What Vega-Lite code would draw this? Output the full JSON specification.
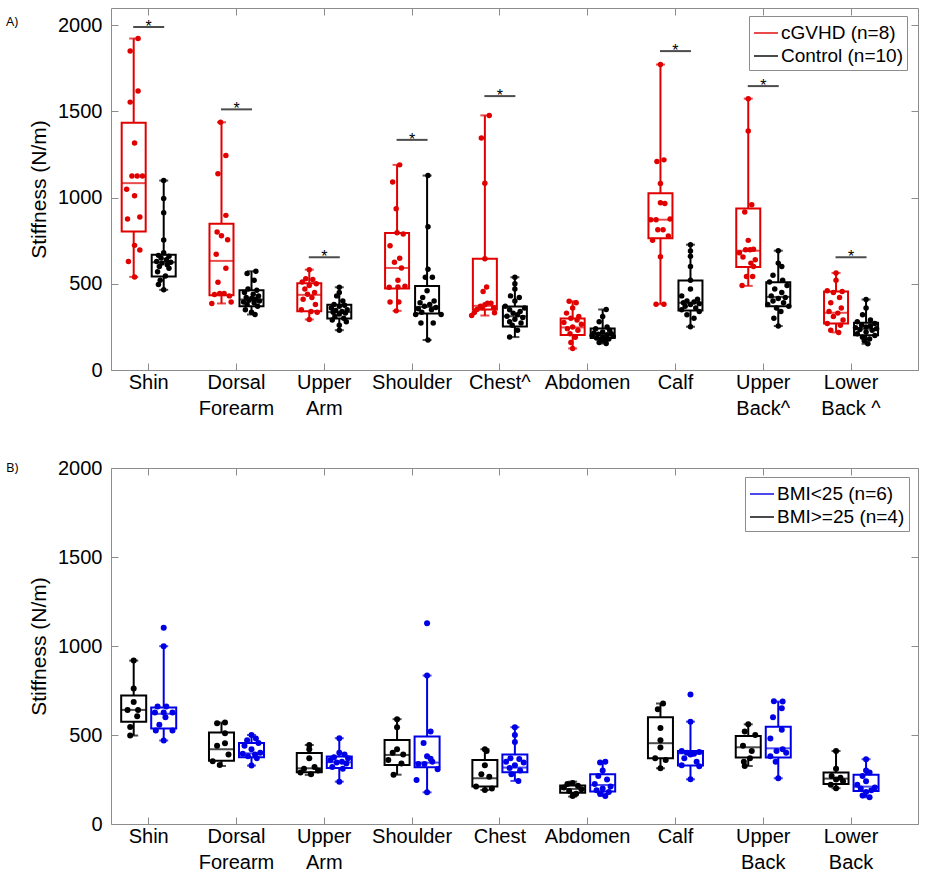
{
"$schema": "https://vega.github.io/schema/vega-lite/v6.json",
"padding": {"left": 5, "top": 7, "right": 2, "bottom": 2},
"spacing": 38,
"config": {
  "view": {"stroke": "#8c8c8c", "strokeWidth": 1},
  "font": "Liberation Sans",
  "axis": {"labelFont": "Liberation Sans", "labelFontSize": 20, "labelColor": "#000000", "titleFont": "Liberation Sans", "titleFontSize": 21, "titleFontWeight": "normal", "titleColor": "#000000", "tickColor": "#8c8c8c", "tickWidth": 1, "domain": false, "grid": false},
  "legend": {"title": null, "orient": "none", "symbolType": "stroke", "symbolSize": 576, "symbolStrokeWidth": 2, "labelFont": "Liberation Sans", "labelFontSize": 19, "labelColor": "#000000", "strokeColor": "#8c8c8c", "fillColor": "#ffffff", "padding": 4, "rowPadding": -5, "labelOffset": 2}
},
"datasets": {
"boxesA": [
{"s":"Shin","g":"cGVHD (n=8)","lo":540,"q1":804,"med":1084,"q3":1435,"hi":1923},
{"s":"Shin","g":"Control (n=10)","lo":465,"q1":542,"med":625,"q3":669,"hi":1099},
{"s":"Dorsal Forearm","g":"cGVHD (n=8)","lo":386,"q1":434,"med":633,"q3":849,"hi":1437},
{"s":"Dorsal Forearm","g":"Control (n=10)","lo":322,"q1":370,"med":409,"q3":463,"hi":573},
{"s":"Upper Arm","g":"cGVHD (n=8)","lo":293,"q1":341,"med":436,"q3":503,"hi":582},
{"s":"Upper Arm","g":"Control (n=10)","lo":231,"q1":299,"med":336,"q3":378,"hi":480},
{"s":"Shoulder","g":"cGVHD (n=8)","lo":343,"q1":473,"med":592,"q3":795,"hi":1190},
{"s":"Shoulder","g":"Control (n=10)","lo":174,"q1":328,"med":366,"q3":488,"hi":1128},
{"s":"Chest","g":"cGVHD (n=8)","lo":316,"q1":351,"med":372,"q3":646,"hi":1477},
{"s":"Chest","g":"Control (n=10)","lo":191,"q1":253,"med":312,"q3":368,"hi":538},
{"s":"Abdomen","g":"cGVHD (n=8)","lo":125,"q1":203,"med":247,"q3":299,"hi":399},
{"s":"Abdomen","g":"Control (n=10)","lo":154,"q1":185,"med":206,"q3":241,"hi":351},
{"s":"Calf","g":"cGVHD (n=8)","lo":382,"q1":764,"med":872,"q3":1026,"hi":1772},
{"s":"Calf","g":"Control (n=10)","lo":251,"q1":345,"med":390,"q3":519,"hi":727},
{"s":"Upper Back","g":"cGVHD (n=8)","lo":488,"q1":598,"med":692,"q3":937,"hi":1574},
{"s":"Upper Back","g":"Control (n=10)","lo":255,"q1":370,"med":424,"q3":509,"hi":692},
{"s":"Lower Back","g":"cGVHD (n=8)","lo":218,"q1":270,"med":332,"q3":455,"hi":563},
{"s":"Lower Back","g":"Control (n=10)","lo":152,"q1":201,"med":239,"q3":274,"hi":409}
],
"sigA": [
{"s":"Shin","v":1990},{"s":"Dorsal Forearm","v":1512},{"s":"Upper Arm","v":654},{"s":"Shoulder","v":1335},
{"s":"Chest","v":1589},{"s":"Calf","v":1850},{"s":"Upper Back","v":1647},{"s":"Lower Back","v":654}
],
"pointsA": [
{"s":"Shin","g":"cGVHD (n=8)","v":1923,"j":0.05},{"s":"Shin","g":"cGVHD (n=8)","v":1851,"j":-0.04},{"s":"Shin","g":"cGVHD (n=8)","v":1618,"j":0.05},{"s":"Shin","g":"cGVHD (n=8)","v":1554,"j":-0.04},
{"s":"Shin","g":"cGVHD (n=8)","v":1317,"j":0.01},{"s":"Shin","g":"cGVHD (n=8)","v":1126,"j":-0.02},{"s":"Shin","g":"cGVHD (n=8)","v":1126,"j":0.04},{"s":"Shin","g":"cGVHD (n=8)","v":1126,"j":0.1},
{"s":"Shin","g":"cGVHD (n=8)","v":1049,"j":-0.08},{"s":"Shin","g":"cGVHD (n=8)","v":1011,"j":0.01},{"s":"Shin","g":"cGVHD (n=8)","v":887,"j":0.07},{"s":"Shin","g":"cGVHD (n=8)","v":876,"j":-0.07},
{"s":"Shin","g":"cGVHD (n=8)","v":723,"j":0.01},{"s":"Shin","g":"cGVHD (n=8)","v":696,"j":0.07},{"s":"Shin","g":"cGVHD (n=8)","v":629,"j":-0.06},{"s":"Shin","g":"cGVHD (n=8)","v":540,"j":0.01},
{"s":"Shin","g":"Control (n=10)","v":1099,"j":0},{"s":"Shin","g":"Control (n=10)","v":995,"j":0},{"s":"Shin","g":"Control (n=10)","v":912,"j":0},{"s":"Shin","g":"Control (n=10)","v":754,"j":0},
{"s":"Shin","g":"Control (n=10)","v":680,"j":0},{"s":"Shin","g":"Control (n=10)","v":665,"j":-0.06},{"s":"Shin","g":"Control (n=10)","v":660,"j":0.06},{"s":"Shin","g":"Control (n=10)","v":650,"j":-0.03},
{"s":"Shin","g":"Control (n=10)","v":640,"j":0.03},{"s":"Shin","g":"Control (n=10)","v":630,"j":-0.08},{"s":"Shin","g":"Control (n=10)","v":625,"j":0.08},{"s":"Shin","g":"Control (n=10)","v":620,"j":-0.02},
{"s":"Shin","g":"Control (n=10)","v":610,"j":0.04},{"s":"Shin","g":"Control (n=10)","v":600,"j":-0.05},{"s":"Shin","g":"Control (n=10)","v":590,"j":0.06},{"s":"Shin","g":"Control (n=10)","v":570,"j":-0.07},
{"s":"Shin","g":"Control (n=10)","v":545,"j":0.02},{"s":"Shin","g":"Control (n=10)","v":520,"j":-0.04},{"s":"Shin","g":"Control (n=10)","v":496,"j":-0.06},{"s":"Shin","g":"Control (n=10)","v":465,"j":0},
{"s":"Dorsal Forearm","g":"cGVHD (n=8)","v":1437,"j":-0.01},{"s":"Dorsal Forearm","g":"cGVHD (n=8)","v":1244,"j":0.05},{"s":"Dorsal Forearm","g":"cGVHD (n=8)","v":1138,"j":-0.04},{"s":"Dorsal Forearm","g":"cGVHD (n=8)","v":897,"j":0.05},
{"s":"Dorsal Forearm","g":"cGVHD (n=8)","v":800,"j":-0.05},{"s":"Dorsal Forearm","g":"cGVHD (n=8)","v":779,"j":0},{"s":"Dorsal Forearm","g":"cGVHD (n=8)","v":756,"j":0.07},{"s":"Dorsal Forearm","g":"cGVHD (n=8)","v":671,"j":-0.06},
{"s":"Dorsal Forearm","g":"cGVHD (n=8)","v":590,"j":0.05},{"s":"Dorsal Forearm","g":"cGVHD (n=8)","v":509,"j":-0.04},{"s":"Dorsal Forearm","g":"cGVHD (n=8)","v":444,"j":-0.02},{"s":"Dorsal Forearm","g":"cGVHD (n=8)","v":444,"j":0.03},
{"s":"Dorsal Forearm","g":"cGVHD (n=8)","v":438,"j":-0.08},{"s":"Dorsal Forearm","g":"cGVHD (n=8)","v":430,"j":0.09},{"s":"Dorsal Forearm","g":"cGVHD (n=8)","v":395,"j":0.11},{"s":"Dorsal Forearm","g":"cGVHD (n=8)","v":386,"j":-0.11},
{"s":"Dorsal Forearm","g":"Control (n=10)","v":573,"j":0.05},{"s":"Dorsal Forearm","g":"Control (n=10)","v":560,"j":-0.05},{"s":"Dorsal Forearm","g":"Control (n=10)","v":520,"j":0.03},{"s":"Dorsal Forearm","g":"Control (n=10)","v":470,"j":-0.04},
{"s":"Dorsal Forearm","g":"Control (n=10)","v":462,"j":0.06},{"s":"Dorsal Forearm","g":"Control (n=10)","v":450,"j":-0.08},{"s":"Dorsal Forearm","g":"Control (n=10)","v":440,"j":0.02},{"s":"Dorsal Forearm","g":"Control (n=10)","v":430,"j":0.08},
{"s":"Dorsal Forearm","g":"Control (n=10)","v":420,"j":-0.06},{"s":"Dorsal Forearm","g":"Control (n=10)","v":415,"j":0},{"s":"Dorsal Forearm","g":"Control (n=10)","v":410,"j":0.05},{"s":"Dorsal Forearm","g":"Control (n=10)","v":405,"j":-0.03},
{"s":"Dorsal Forearm","g":"Control (n=10)","v":400,"j":0.09},{"s":"Dorsal Forearm","g":"Control (n=10)","v":395,"j":-0.09},{"s":"Dorsal Forearm","g":"Control (n=10)","v":390,"j":0.03},{"s":"Dorsal Forearm","g":"Control (n=10)","v":380,"j":-0.05},
{"s":"Dorsal Forearm","g":"Control (n=10)","v":370,"j":0.07},{"s":"Dorsal Forearm","g":"Control (n=10)","v":350,"j":-0.07},{"s":"Dorsal Forearm","g":"Control (n=10)","v":335,"j":0},{"s":"Dorsal Forearm","g":"Control (n=10)","v":322,"j":0.04},
{"s":"Upper Arm","g":"cGVHD (n=8)","v":582,"j":0},{"s":"Upper Arm","g":"cGVHD (n=8)","v":530,"j":-0.04},{"s":"Upper Arm","g":"cGVHD (n=8)","v":525,"j":0.04},{"s":"Upper Arm","g":"cGVHD (n=8)","v":510,"j":-0.08},
{"s":"Upper Arm","g":"cGVHD (n=8)","v":500,"j":0.08},{"s":"Upper Arm","g":"cGVHD (n=8)","v":490,"j":0},{"s":"Upper Arm","g":"cGVHD (n=8)","v":470,"j":-0.05},{"s":"Upper Arm","g":"cGVHD (n=8)","v":450,"j":0.06},
{"s":"Upper Arm","g":"cGVHD (n=8)","v":440,"j":-0.02},{"s":"Upper Arm","g":"cGVHD (n=8)","v":420,"j":0.03},{"s":"Upper Arm","g":"cGVHD (n=8)","v":410,"j":-0.07},{"s":"Upper Arm","g":"cGVHD (n=8)","v":380,"j":0.07},
{"s":"Upper Arm","g":"cGVHD (n=8)","v":350,"j":-0.09},{"s":"Upper Arm","g":"cGVHD (n=8)","v":340,"j":0.02},{"s":"Upper Arm","g":"cGVHD (n=8)","v":335,"j":0.09},{"s":"Upper Arm","g":"cGVHD (n=8)","v":293,"j":0},
{"s":"Upper Arm","g":"Control (n=10)","v":480,"j":0},{"s":"Upper Arm","g":"Control (n=10)","v":450,"j":0},{"s":"Upper Arm","g":"Control (n=10)","v":430,"j":-0.03},{"s":"Upper Arm","g":"Control (n=10)","v":400,"j":0.04},
{"s":"Upper Arm","g":"Control (n=10)","v":380,"j":-0.06},{"s":"Upper Arm","g":"Control (n=10)","v":375,"j":0.06},{"s":"Upper Arm","g":"Control (n=10)","v":370,"j":0},{"s":"Upper Arm","g":"Control (n=10)","v":360,"j":-0.09},
{"s":"Upper Arm","g":"Control (n=10)","v":350,"j":0.09},{"s":"Upper Arm","g":"Control (n=10)","v":345,"j":-0.04},{"s":"Upper Arm","g":"Control (n=10)","v":340,"j":0.03},{"s":"Upper Arm","g":"Control (n=10)","v":335,"j":-0.07},
{"s":"Upper Arm","g":"Control (n=10)","v":330,"j":0.07},{"s":"Upper Arm","g":"Control (n=10)","v":325,"j":0},{"s":"Upper Arm","g":"Control (n=10)","v":310,"j":-0.05},{"s":"Upper Arm","g":"Control (n=10)","v":300,"j":0.05},
{"s":"Upper Arm","g":"Control (n=10)","v":290,"j":-0.08},{"s":"Upper Arm","g":"Control (n=10)","v":280,"j":0.08},{"s":"Upper Arm","g":"Control (n=10)","v":260,"j":0},{"s":"Upper Arm","g":"Control (n=10)","v":231,"j":0},
{"s":"Shoulder","g":"cGVHD (n=8)","v":1190,"j":0.03},{"s":"Shoulder","g":"cGVHD (n=8)","v":1090,"j":-0.05},{"s":"Shoulder","g":"cGVHD (n=8)","v":935,"j":-0.01},{"s":"Shoulder","g":"cGVHD (n=8)","v":796,"j":0},
{"s":"Shoulder","g":"cGVHD (n=8)","v":789,"j":0.07},{"s":"Shoulder","g":"cGVHD (n=8)","v":721,"j":-0.08},{"s":"Shoulder","g":"cGVHD (n=8)","v":648,"j":0.03},{"s":"Shoulder","g":"cGVHD (n=8)","v":625,"j":-0.03},
{"s":"Shoulder","g":"cGVHD (n=8)","v":592,"j":0.05},{"s":"Shoulder","g":"cGVHD (n=8)","v":520,"j":0.01},{"s":"Shoulder","g":"cGVHD (n=8)","v":486,"j":0.09},{"s":"Shoulder","g":"cGVHD (n=8)","v":482,"j":0.01},
{"s":"Shoulder","g":"cGVHD (n=8)","v":480,"j":-0.09},{"s":"Shoulder","g":"cGVHD (n=8)","v":395,"j":-0.08},{"s":"Shoulder","g":"cGVHD (n=8)","v":395,"j":0.02},{"s":"Shoulder","g":"cGVHD (n=8)","v":343,"j":-0.01},
{"s":"Shoulder","g":"Control (n=10)","v":1128,"j":0.01},{"s":"Shoulder","g":"Control (n=10)","v":831,"j":0.01},{"s":"Shoulder","g":"Control (n=10)","v":584,"j":0.01},{"s":"Shoulder","g":"Control (n=10)","v":538,"j":-0.02},
{"s":"Shoulder","g":"Control (n=10)","v":538,"j":0.06},{"s":"Shoulder","g":"Control (n=10)","v":460,"j":0},{"s":"Shoulder","g":"Control (n=10)","v":420,"j":-0.05},{"s":"Shoulder","g":"Control (n=10)","v":400,"j":0.08},
{"s":"Shoulder","g":"Control (n=10)","v":390,"j":-0.08},{"s":"Shoulder","g":"Control (n=10)","v":380,"j":0.03},{"s":"Shoulder","g":"Control (n=10)","v":370,"j":-0.03},{"s":"Shoulder","g":"Control (n=10)","v":362,"j":0.1},
{"s":"Shoulder","g":"Control (n=10)","v":355,"j":-0.1},{"s":"Shoulder","g":"Control (n=10)","v":350,"j":0.05},{"s":"Shoulder","g":"Control (n=10)","v":335,"j":-0.06},{"s":"Shoulder","g":"Control (n=10)","v":322,"j":-0.13},
{"s":"Shoulder","g":"Control (n=10)","v":322,"j":0.16},{"s":"Shoulder","g":"Control (n=10)","v":272,"j":0.07},{"s":"Shoulder","g":"Control (n=10)","v":272,"j":-0.07},{"s":"Shoulder","g":"Control (n=10)","v":174,"j":0.01},
{"s":"Chest","g":"cGVHD (n=8)","v":1477,"j":0.05},{"s":"Chest","g":"cGVHD (n=8)","v":1346,"j":-0.04},{"s":"Chest","g":"cGVHD (n=8)","v":1084,"j":0},{"s":"Chest","g":"cGVHD (n=8)","v":646,"j":0},
{"s":"Chest","g":"cGVHD (n=8)","v":482,"j":0.02},{"s":"Chest","g":"cGVHD (n=8)","v":455,"j":-0.02},{"s":"Chest","g":"cGVHD (n=8)","v":388,"j":0.03},{"s":"Chest","g":"cGVHD (n=8)","v":388,"j":0.07},
{"s":"Chest","g":"cGVHD (n=8)","v":378,"j":0},{"s":"Chest","g":"cGVHD (n=8)","v":370,"j":-0.05},{"s":"Chest","g":"cGVHD (n=8)","v":361,"j":-0.03},{"s":"Chest","g":"cGVHD (n=8)","v":361,"j":0.1},
{"s":"Chest","g":"cGVHD (n=8)","v":351,"j":-0.09},{"s":"Chest","g":"cGVHD (n=8)","v":334,"j":-0.12},{"s":"Chest","g":"cGVHD (n=8)","v":332,"j":0.11},{"s":"Chest","g":"cGVHD (n=8)","v":316,"j":-0.15},
{"s":"Chest","g":"Control (n=10)","v":538,"j":0},{"s":"Chest","g":"Control (n=10)","v":500,"j":0},{"s":"Chest","g":"Control (n=10)","v":470,"j":0},{"s":"Chest","g":"Control (n=10)","v":430,"j":-0.05},
{"s":"Chest","g":"Control (n=10)","v":420,"j":0.05},{"s":"Chest","g":"Control (n=10)","v":400,"j":0},{"s":"Chest","g":"Control (n=10)","v":370,"j":-0.11},{"s":"Chest","g":"Control (n=10)","v":360,"j":0.11},
{"s":"Chest","g":"Control (n=10)","v":350,"j":-0.06},{"s":"Chest","g":"Control (n=10)","v":340,"j":0.06},{"s":"Chest","g":"Control (n=10)","v":330,"j":-0.02},{"s":"Chest","g":"Control (n=10)","v":320,"j":0.03},
{"s":"Chest","g":"Control (n=10)","v":312,"j":-0.09},{"s":"Chest","g":"Control (n=10)","v":305,"j":0.09},{"s":"Chest","g":"Control (n=10)","v":295,"j":0},{"s":"Chest","g":"Control (n=10)","v":280,"j":-0.06},
{"s":"Chest","g":"Control (n=10)","v":272,"j":0.07},{"s":"Chest","g":"Control (n=10)","v":260,"j":-0.03},{"s":"Chest","g":"Control (n=10)","v":230,"j":0.03},{"s":"Chest","g":"Control (n=10)","v":191,"j":-0.06},
{"s":"Abdomen","g":"cGVHD (n=8)","v":399,"j":-0.04},{"s":"Abdomen","g":"cGVHD (n=8)","v":390,"j":0.04},{"s":"Abdomen","g":"cGVHD (n=8)","v":360,"j":0},{"s":"Abdomen","g":"cGVHD (n=8)","v":330,"j":-0.07},
{"s":"Abdomen","g":"cGVHD (n=8)","v":310,"j":0.07},{"s":"Abdomen","g":"cGVHD (n=8)","v":300,"j":-0.02},{"s":"Abdomen","g":"cGVHD (n=8)","v":290,"j":0.05},{"s":"Abdomen","g":"cGVHD (n=8)","v":275,"j":-0.1},
{"s":"Abdomen","g":"cGVHD (n=8)","v":265,"j":0.1},{"s":"Abdomen","g":"cGVHD (n=8)","v":250,"j":0},{"s":"Abdomen","g":"cGVHD (n=8)","v":240,"j":-0.06},{"s":"Abdomen","g":"cGVHD (n=8)","v":230,"j":0.06},
{"s":"Abdomen","g":"cGVHD (n=8)","v":210,"j":-0.03},{"s":"Abdomen","g":"cGVHD (n=8)","v":190,"j":0.03},{"s":"Abdomen","g":"cGVHD (n=8)","v":160,"j":-0.02},{"s":"Abdomen","g":"cGVHD (n=8)","v":125,"j":0},
{"s":"Abdomen","g":"Control (n=10)","v":351,"j":0.04},{"s":"Abdomen","g":"Control (n=10)","v":310,"j":0},{"s":"Abdomen","g":"Control (n=10)","v":280,"j":-0.04},{"s":"Abdomen","g":"Control (n=10)","v":250,"j":0.05},
{"s":"Abdomen","g":"Control (n=10)","v":240,"j":-0.08},{"s":"Abdomen","g":"Control (n=10)","v":230,"j":0.08},{"s":"Abdomen","g":"Control (n=10)","v":220,"j":0},{"s":"Abdomen","g":"Control (n=10)","v":215,"j":-0.1},
{"s":"Abdomen","g":"Control (n=10)","v":210,"j":0.1},{"s":"Abdomen","g":"Control (n=10)","v":208,"j":-0.05},{"s":"Abdomen","g":"Control (n=10)","v":205,"j":0.05},{"s":"Abdomen","g":"Control (n=10)","v":200,"j":-0.12},
{"s":"Abdomen","g":"Control (n=10)","v":195,"j":0.12},{"s":"Abdomen","g":"Control (n=10)","v":190,"j":0},{"s":"Abdomen","g":"Control (n=10)","v":185,"j":-0.07},{"s":"Abdomen","g":"Control (n=10)","v":180,"j":0.07},
{"s":"Abdomen","g":"Control (n=10)","v":175,"j":-0.02},{"s":"Abdomen","g":"Control (n=10)","v":170,"j":0.03},{"s":"Abdomen","g":"Control (n=10)","v":160,"j":-0.04},{"s":"Abdomen","g":"Control (n=10)","v":154,"j":0.04},
{"s":"Calf","g":"cGVHD (n=8)","v":1772,"j":0},{"s":"Calf","g":"cGVHD (n=8)","v":1219,"j":0.04},{"s":"Calf","g":"cGVHD (n=8)","v":1209,"j":-0.04},{"s":"Calf","g":"cGVHD (n=8)","v":1082,"j":0},
{"s":"Calf","g":"cGVHD (n=8)","v":970,"j":0},{"s":"Calf","g":"cGVHD (n=8)","v":966,"j":0.05},{"s":"Calf","g":"cGVHD (n=8)","v":876,"j":0.11},{"s":"Calf","g":"cGVHD (n=8)","v":872,"j":-0.11},
{"s":"Calf","g":"cGVHD (n=8)","v":872,"j":-0.05},{"s":"Calf","g":"cGVHD (n=8)","v":814,"j":-0.03},{"s":"Calf","g":"cGVHD (n=8)","v":814,"j":0.03},{"s":"Calf","g":"cGVHD (n=8)","v":777,"j":0.09},
{"s":"Calf","g":"cGVHD (n=8)","v":752,"j":-0.09},{"s":"Calf","g":"cGVHD (n=8)","v":657,"j":0},{"s":"Calf","g":"cGVHD (n=8)","v":382,"j":-0.05},{"s":"Calf","g":"cGVHD (n=8)","v":382,"j":0.04},
{"s":"Calf","g":"Control (n=10)","v":727,"j":0},{"s":"Calf","g":"Control (n=10)","v":690,"j":0},{"s":"Calf","g":"Control (n=10)","v":660,"j":0},{"s":"Calf","g":"Control (n=10)","v":600,"j":0},
{"s":"Calf","g":"Control (n=10)","v":520,"j":0},{"s":"Calf","g":"Control (n=10)","v":470,"j":0},{"s":"Calf","g":"Control (n=10)","v":430,"j":-0.1},{"s":"Calf","g":"Control (n=10)","v":410,"j":0.08},
{"s":"Calf","g":"Control (n=10)","v":400,"j":-0.04},{"s":"Calf","g":"Control (n=10)","v":395,"j":0.04},{"s":"Calf","g":"Control (n=10)","v":390,"j":-0.08},{"s":"Calf","g":"Control (n=10)","v":385,"j":0.1},
{"s":"Calf","g":"Control (n=10)","v":380,"j":0},{"s":"Calf","g":"Control (n=10)","v":370,"j":-0.06},{"s":"Calf","g":"Control (n=10)","v":360,"j":0.06},{"s":"Calf","g":"Control (n=10)","v":350,"j":-0.1},
{"s":"Calf","g":"Control (n=10)","v":340,"j":0.1},{"s":"Calf","g":"Control (n=10)","v":320,"j":-0.04},{"s":"Calf","g":"Control (n=10)","v":300,"j":0.04},{"s":"Calf","g":"Control (n=10)","v":251,"j":0},
{"s":"Upper Back","g":"cGVHD (n=8)","v":1574,"j":0},{"s":"Upper Back","g":"cGVHD (n=8)","v":1387,"j":0},{"s":"Upper Back","g":"cGVHD (n=8)","v":959,"j":0.04},{"s":"Upper Back","g":"cGVHD (n=8)","v":916,"j":-0.04},
{"s":"Upper Back","g":"cGVHD (n=8)","v":752,"j":0},{"s":"Upper Back","g":"cGVHD (n=8)","v":700,"j":0.06},{"s":"Upper Back","g":"cGVHD (n=8)","v":698,"j":-0.03},{"s":"Upper Back","g":"cGVHD (n=8)","v":698,"j":0.02},
{"s":"Upper Back","g":"cGVHD (n=8)","v":680,"j":-0.1},{"s":"Upper Back","g":"cGVHD (n=8)","v":656,"j":-0.06},{"s":"Upper Back","g":"cGVHD (n=8)","v":640,"j":0.08},{"s":"Upper Back","g":"cGVHD (n=8)","v":620,"j":0.03},
{"s":"Upper Back","g":"cGVHD (n=8)","v":600,"j":0.06},{"s":"Upper Back","g":"cGVHD (n=8)","v":542,"j":-0.02},{"s":"Upper Back","g":"cGVHD (n=8)","v":542,"j":0.05},{"s":"Upper Back","g":"cGVHD (n=8)","v":490,"j":-0.07},
{"s":"Upper Back","g":"Control (n=10)","v":692,"j":0},{"s":"Upper Back","g":"Control (n=10)","v":620,"j":0},{"s":"Upper Back","g":"Control (n=10)","v":600,"j":0.04},{"s":"Upper Back","g":"Control (n=10)","v":550,"j":-0.06},
{"s":"Upper Back","g":"Control (n=10)","v":520,"j":0.05},{"s":"Upper Back","g":"Control (n=10)","v":510,"j":-0.1},{"s":"Upper Back","g":"Control (n=10)","v":490,"j":0.1},{"s":"Upper Back","g":"Control (n=10)","v":470,"j":-0.04},
{"s":"Upper Back","g":"Control (n=10)","v":450,"j":0.04},{"s":"Upper Back","g":"Control (n=10)","v":430,"j":-0.08},{"s":"Upper Back","g":"Control (n=10)","v":420,"j":0.08},{"s":"Upper Back","g":"Control (n=10)","v":415,"j":0},
{"s":"Upper Back","g":"Control (n=10)","v":400,"j":-0.06},{"s":"Upper Back","g":"Control (n=10)","v":390,"j":0.06},{"s":"Upper Back","g":"Control (n=10)","v":380,"j":-0.12},{"s":"Upper Back","g":"Control (n=10)","v":370,"j":0.12},
{"s":"Upper Back","g":"Control (n=10)","v":360,"j":-0.02},{"s":"Upper Back","g":"Control (n=10)","v":340,"j":0.03},{"s":"Upper Back","g":"Control (n=10)","v":300,"j":-0.05},{"s":"Upper Back","g":"Control (n=10)","v":255,"j":0},
{"s":"Lower Back","g":"cGVHD (n=8)","v":563,"j":0},{"s":"Lower Back","g":"cGVHD (n=8)","v":520,"j":0},{"s":"Lower Back","g":"cGVHD (n=8)","v":460,"j":-0.1},{"s":"Lower Back","g":"cGVHD (n=8)","v":455,"j":0.07},
{"s":"Lower Back","g":"cGVHD (n=8)","v":450,"j":-0.03},{"s":"Lower Back","g":"cGVHD (n=8)","v":420,"j":0.04},{"s":"Lower Back","g":"cGVHD (n=8)","v":390,"j":-0.06},{"s":"Lower Back","g":"cGVHD (n=8)","v":360,"j":0.06},
{"s":"Lower Back","g":"cGVHD (n=8)","v":340,"j":-0.08},{"s":"Lower Back","g":"cGVHD (n=8)","v":330,"j":0.02},{"s":"Lower Back","g":"cGVHD (n=8)","v":310,"j":-0.03},{"s":"Lower Back","g":"cGVHD (n=8)","v":290,"j":0.08},
{"s":"Lower Back","g":"cGVHD (n=8)","v":270,"j":-0.1},{"s":"Lower Back","g":"cGVHD (n=8)","v":260,"j":0.05},{"s":"Lower Back","g":"cGVHD (n=8)","v":230,"j":-0.06},{"s":"Lower Back","g":"cGVHD (n=8)","v":218,"j":0.03},
{"s":"Lower Back","g":"Control (n=10)","v":409,"j":0},{"s":"Lower Back","g":"Control (n=10)","v":360,"j":0},{"s":"Lower Back","g":"Control (n=10)","v":320,"j":-0.04},{"s":"Lower Back","g":"Control (n=10)","v":290,"j":0.05},
{"s":"Lower Back","g":"Control (n=10)","v":280,"j":-0.1},{"s":"Lower Back","g":"Control (n=10)","v":270,"j":0.1},{"s":"Lower Back","g":"Control (n=10)","v":260,"j":-0.05},{"s":"Lower Back","g":"Control (n=10)","v":255,"j":0.05},
{"s":"Lower Back","g":"Control (n=10)","v":250,"j":0},{"s":"Lower Back","g":"Control (n=10)","v":245,"j":-0.12},{"s":"Lower Back","g":"Control (n=10)","v":240,"j":0.12},{"s":"Lower Back","g":"Control (n=10)","v":235,"j":-0.07},
{"s":"Lower Back","g":"Control (n=10)","v":230,"j":0.07},{"s":"Lower Back","g":"Control (n=10)","v":220,"j":0},{"s":"Lower Back","g":"Control (n=10)","v":210,"j":-0.1},{"s":"Lower Back","g":"Control (n=10)","v":200,"j":0.1},
{"s":"Lower Back","g":"Control (n=10)","v":190,"j":-0.04},{"s":"Lower Back","g":"Control (n=10)","v":180,"j":0.04},{"s":"Lower Back","g":"Control (n=10)","v":170,"j":-0.02},{"s":"Lower Back","g":"Control (n=10)","v":152,"j":0.02}
],
"boxesB": [
{"s":"Shin","g":"BMI>=25 (n=4)","lo":497,"q1":574,"med":641,"q3":722,"hi":918},
{"s":"Shin","g":"BMI<25 (n=6)","lo":469,"q1":536,"med":619,"q3":654,"hi":999},
{"s":"Dorsal Forearm","g":"BMI>=25 (n=4)","lo":326,"q1":356,"med":420,"q3":514,"hi":570},
{"s":"Dorsal Forearm","g":"BMI<25 (n=6)","lo":328,"q1":375,"med":397,"q3":455,"hi":500},
{"s":"Upper Arm","g":"BMI>=25 (n=4)","lo":276,"q1":291,"med":313,"q3":399,"hi":444},
{"s":"Upper Arm","g":"BMI<25 (n=6)","lo":238,"q1":315,"med":347,"q3":379,"hi":482},
{"s":"Shoulder","g":"BMI>=25 (n=4)","lo":277,"q1":332,"med":388,"q3":472,"hi":589},
{"s":"Shoulder","g":"BMI<25 (n=6)","lo":178,"q1":319,"med":345,"q3":491,"hi":834},
{"s":"Chest","g":"BMI>=25 (n=4)","lo":191,"q1":210,"med":257,"q3":360,"hi":420},
{"s":"Chest","g":"BMI<25 (n=6)","lo":242,"q1":291,"med":317,"q3":390,"hi":544},
{"s":"Abdomen","g":"BMI>=25 (n=4)","lo":154,"q1":176,"med":197,"q3":216,"hi":238},
{"s":"Abdomen","g":"BMI<25 (n=6)","lo":157,"q1":182,"med":219,"q3":279,"hi":350},
{"s":"Calf","g":"BMI>=25 (n=4)","lo":313,"q1":369,"med":454,"q3":600,"hi":677},
{"s":"Calf","g":"BMI<25 (n=6)","lo":251,"q1":328,"med":397,"q3":410,"hi":575},
{"s":"Upper Back","g":"BMI>=25 (n=4)","lo":326,"q1":373,"med":431,"q3":495,"hi":560},
{"s":"Upper Back","g":"BMI<25 (n=6)","lo":257,"q1":373,"med":425,"q3":547,"hi":688},
{"s":"Lower Back","g":"BMI>=25 (n=4)","lo":201,"q1":225,"med":255,"q3":289,"hi":410},
{"s":"Lower Back","g":"BMI<25 (n=6)","lo":150,"q1":186,"med":210,"q3":276,"hi":364}
],
"pointsB": [
{"s":"Shin","g":"BMI>=25 (n=4)","v":918,"j":0},{"s":"Shin","g":"BMI>=25 (n=4)","v":761,"j":0},{"s":"Shin","g":"BMI>=25 (n=4)","v":686,"j":0},{"s":"Shin","g":"BMI>=25 (n=4)","v":641,"j":-0.07},
{"s":"Shin","g":"BMI>=25 (n=4)","v":641,"j":0.05},{"s":"Shin","g":"BMI>=25 (n=4)","v":605,"j":0.04},{"s":"Shin","g":"BMI>=25 (n=4)","v":545,"j":-0.04},{"s":"Shin","g":"BMI>=25 (n=4)","v":497,"j":-0.04},
{"s":"Shin","g":"BMI<25 (n=6)","v":1102,"j":0},{"s":"Shin","g":"BMI<25 (n=6)","v":999,"j":0},{"s":"Shin","g":"BMI<25 (n=6)","v":660,"j":-0.07},{"s":"Shin","g":"BMI<25 (n=6)","v":660,"j":0.03},
{"s":"Shin","g":"BMI<25 (n=6)","v":626,"j":-0.1},{"s":"Shin","g":"BMI<25 (n=6)","v":626,"j":0},{"s":"Shin","g":"BMI<25 (n=6)","v":626,"j":0.1},{"s":"Shin","g":"BMI<25 (n=6)","v":600,"j":0.02},
{"s":"Shin","g":"BMI<25 (n=6)","v":557,"j":-0.05},{"s":"Shin","g":"BMI<25 (n=6)","v":525,"j":-0.09},{"s":"Shin","g":"BMI<25 (n=6)","v":525,"j":0.1},{"s":"Shin","g":"BMI<25 (n=6)","v":469,"j":0},
{"s":"Dorsal Forearm","g":"BMI>=25 (n=4)","v":570,"j":0.04},{"s":"Dorsal Forearm","g":"BMI>=25 (n=4)","v":566,"j":-0.05},{"s":"Dorsal Forearm","g":"BMI>=25 (n=4)","v":510,"j":0.04},{"s":"Dorsal Forearm","g":"BMI>=25 (n=4)","v":454,"j":0.04},
{"s":"Dorsal Forearm","g":"BMI>=25 (n=4)","v":440,"j":-0.05},{"s":"Dorsal Forearm","g":"BMI>=25 (n=4)","v":390,"j":0.08},{"s":"Dorsal Forearm","g":"BMI>=25 (n=4)","v":352,"j":-0.1},{"s":"Dorsal Forearm","g":"BMI>=25 (n=4)","v":332,"j":-0.02},
{"s":"Dorsal Forearm","g":"BMI<25 (n=6)","v":500,"j":0},{"s":"Dorsal Forearm","g":"BMI<25 (n=6)","v":480,"j":0.05},{"s":"Dorsal Forearm","g":"BMI<25 (n=6)","v":470,"j":-0.05},{"s":"Dorsal Forearm","g":"BMI<25 (n=6)","v":455,"j":0.08},
{"s":"Dorsal Forearm","g":"BMI<25 (n=6)","v":440,"j":-0.08},{"s":"Dorsal Forearm","g":"BMI<25 (n=6)","v":420,"j":0},{"s":"Dorsal Forearm","g":"BMI<25 (n=6)","v":400,"j":0.1},{"s":"Dorsal Forearm","g":"BMI<25 (n=6)","v":395,"j":-0.1},
{"s":"Dorsal Forearm","g":"BMI<25 (n=6)","v":390,"j":0.04},{"s":"Dorsal Forearm","g":"BMI<25 (n=6)","v":380,"j":-0.04},{"s":"Dorsal Forearm","g":"BMI<25 (n=6)","v":370,"j":0.06},{"s":"Dorsal Forearm","g":"BMI<25 (n=6)","v":328,"j":0},
{"s":"Upper Arm","g":"BMI>=25 (n=4)","v":444,"j":0},{"s":"Upper Arm","g":"BMI>=25 (n=4)","v":420,"j":0},{"s":"Upper Arm","g":"BMI>=25 (n=4)","v":370,"j":0},{"s":"Upper Arm","g":"BMI>=25 (n=4)","v":320,"j":0.06},
{"s":"Upper Arm","g":"BMI>=25 (n=4)","v":310,"j":-0.06},{"s":"Upper Arm","g":"BMI>=25 (n=4)","v":300,"j":0.1},{"s":"Upper Arm","g":"BMI>=25 (n=4)","v":290,"j":-0.1},{"s":"Upper Arm","g":"BMI>=25 (n=4)","v":280,"j":0.02},
{"s":"Upper Arm","g":"BMI<25 (n=6)","v":482,"j":0},{"s":"Upper Arm","g":"BMI<25 (n=6)","v":400,"j":0},{"s":"Upper Arm","g":"BMI<25 (n=6)","v":390,"j":0.06},{"s":"Upper Arm","g":"BMI<25 (n=6)","v":375,"j":-0.06},
{"s":"Upper Arm","g":"BMI<25 (n=6)","v":370,"j":0.1},{"s":"Upper Arm","g":"BMI<25 (n=6)","v":360,"j":-0.1},{"s":"Upper Arm","g":"BMI<25 (n=6)","v":350,"j":0.03},{"s":"Upper Arm","g":"BMI<25 (n=6)","v":345,"j":-0.03},
{"s":"Upper Arm","g":"BMI<25 (n=6)","v":340,"j":0.08},{"s":"Upper Arm","g":"BMI<25 (n=6)","v":320,"j":-0.08},{"s":"Upper Arm","g":"BMI<25 (n=6)","v":310,"j":0.04},{"s":"Upper Arm","g":"BMI<25 (n=6)","v":238,"j":0},
{"s":"Shoulder","g":"BMI>=25 (n=4)","v":589,"j":0},{"s":"Shoulder","g":"BMI>=25 (n=4)","v":543,"j":0},{"s":"Shoulder","g":"BMI>=25 (n=4)","v":420,"j":0},{"s":"Shoulder","g":"BMI>=25 (n=4)","v":400,"j":-0.05},
{"s":"Shoulder","g":"BMI>=25 (n=4)","v":390,"j":0.07},{"s":"Shoulder","g":"BMI>=25 (n=4)","v":360,"j":-0.1},{"s":"Shoulder","g":"BMI>=25 (n=4)","v":340,"j":0.05},{"s":"Shoulder","g":"BMI>=25 (n=4)","v":277,"j":-0.04},
{"s":"Shoulder","g":"BMI<25 (n=6)","v":1128,"j":0},{"s":"Shoulder","g":"BMI<25 (n=6)","v":834,"j":0},{"s":"Shoulder","g":"BMI<25 (n=6)","v":519,"j":0.04},{"s":"Shoulder","g":"BMI<25 (n=6)","v":455,"j":-0.04},
{"s":"Shoulder","g":"BMI<25 (n=6)","v":380,"j":0},{"s":"Shoulder","g":"BMI<25 (n=6)","v":366,"j":0.04},{"s":"Shoulder","g":"BMI<25 (n=6)","v":350,"j":0.06},{"s":"Shoulder","g":"BMI<25 (n=6)","v":337,"j":-0.1},
{"s":"Shoulder","g":"BMI<25 (n=6)","v":337,"j":-0.03},{"s":"Shoulder","g":"BMI<25 (n=6)","v":307,"j":0.12},{"s":"Shoulder","g":"BMI<25 (n=6)","v":247,"j":-0.12},{"s":"Shoulder","g":"BMI<25 (n=6)","v":178,"j":0},
{"s":"Chest","g":"BMI>=25 (n=4)","v":420,"j":0},{"s":"Chest","g":"BMI>=25 (n=4)","v":410,"j":0.02},{"s":"Chest","g":"BMI>=25 (n=4)","v":330,"j":0},{"s":"Chest","g":"BMI>=25 (n=4)","v":280,"j":-0.04},
{"s":"Chest","g":"BMI>=25 (n=4)","v":265,"j":0.05},{"s":"Chest","g":"BMI>=25 (n=4)","v":210,"j":-0.1},{"s":"Chest","g":"BMI>=25 (n=4)","v":200,"j":0.08},{"s":"Chest","g":"BMI>=25 (n=4)","v":191,"j":0},
{"s":"Chest","g":"BMI<25 (n=6)","v":544,"j":0},{"s":"Chest","g":"BMI<25 (n=6)","v":500,"j":0},{"s":"Chest","g":"BMI<25 (n=6)","v":460,"j":0},{"s":"Chest","g":"BMI<25 (n=6)","v":370,"j":-0.05},
{"s":"Chest","g":"BMI<25 (n=6)","v":365,"j":0.05},{"s":"Chest","g":"BMI<25 (n=6)","v":350,"j":-0.1},{"s":"Chest","g":"BMI<25 (n=6)","v":345,"j":0.1},{"s":"Chest","g":"BMI<25 (n=6)","v":330,"j":0},
{"s":"Chest","g":"BMI<25 (n=6)","v":315,"j":-0.06},{"s":"Chest","g":"BMI<25 (n=6)","v":300,"j":0.06},{"s":"Chest","g":"BMI<25 (n=6)","v":280,"j":-0.04},{"s":"Chest","g":"BMI<25 (n=6)","v":242,"j":0.04},
{"s":"Abdomen","g":"BMI>=25 (n=4)","v":230,"j":0},{"s":"Abdomen","g":"BMI>=25 (n=4)","v":225,"j":-0.06},{"s":"Abdomen","g":"BMI>=25 (n=4)","v":215,"j":0.06},{"s":"Abdomen","g":"BMI>=25 (n=4)","v":205,"j":-0.1},
{"s":"Abdomen","g":"BMI>=25 (n=4)","v":195,"j":0.1},{"s":"Abdomen","g":"BMI>=25 (n=4)","v":185,"j":-0.04},{"s":"Abdomen","g":"BMI>=25 (n=4)","v":170,"j":0.04},{"s":"Abdomen","g":"BMI>=25 (n=4)","v":158,"j":0},
{"s":"Abdomen","g":"BMI<25 (n=6)","v":350,"j":0.03},{"s":"Abdomen","g":"BMI<25 (n=6)","v":345,"j":-0.03},{"s":"Abdomen","g":"BMI<25 (n=6)","v":300,"j":0},{"s":"Abdomen","g":"BMI<25 (n=6)","v":270,"j":-0.05},
{"s":"Abdomen","g":"BMI<25 (n=6)","v":250,"j":0.05},{"s":"Abdomen","g":"BMI<25 (n=6)","v":225,"j":-0.09},{"s":"Abdomen","g":"BMI<25 (n=6)","v":210,"j":0.09},{"s":"Abdomen","g":"BMI<25 (n=6)","v":200,"j":0},
{"s":"Abdomen","g":"BMI<25 (n=6)","v":190,"j":-0.07},{"s":"Abdomen","g":"BMI<25 (n=6)","v":180,"j":0.07},{"s":"Abdomen","g":"BMI<25 (n=6)","v":170,"j":-0.03},{"s":"Abdomen","g":"BMI<25 (n=6)","v":157,"j":0.03},
{"s":"Calf","g":"BMI>=25 (n=4)","v":677,"j":0.03},{"s":"Calf","g":"BMI>=25 (n=4)","v":645,"j":-0.03},{"s":"Calf","g":"BMI>=25 (n=4)","v":540,"j":0},{"s":"Calf","g":"BMI>=25 (n=4)","v":470,"j":0},
{"s":"Calf","g":"BMI>=25 (n=4)","v":430,"j":0},{"s":"Calf","g":"BMI>=25 (n=4)","v":370,"j":-0.06},{"s":"Calf","g":"BMI>=25 (n=4)","v":360,"j":0.06},{"s":"Calf","g":"BMI>=25 (n=4)","v":313,"j":0},
{"s":"Calf","g":"BMI<25 (n=6)","v":727,"j":0},{"s":"Calf","g":"BMI<25 (n=6)","v":575,"j":0},{"s":"Calf","g":"BMI<25 (n=6)","v":410,"j":-0.1},{"s":"Calf","g":"BMI<25 (n=6)","v":405,"j":0.1},
{"s":"Calf","g":"BMI<25 (n=6)","v":400,"j":-0.04},{"s":"Calf","g":"BMI<25 (n=6)","v":395,"j":0.04},{"s":"Calf","g":"BMI<25 (n=6)","v":390,"j":0},{"s":"Calf","g":"BMI<25 (n=6)","v":370,"j":-0.07},
{"s":"Calf","g":"BMI<25 (n=6)","v":350,"j":0.07},{"s":"Calf","g":"BMI<25 (n=6)","v":330,"j":-0.1},{"s":"Calf","g":"BMI<25 (n=6)","v":325,"j":0.1},{"s":"Calf","g":"BMI<25 (n=6)","v":251,"j":0},
{"s":"Upper Back","g":"BMI>=25 (n=4)","v":560,"j":0},{"s":"Upper Back","g":"BMI>=25 (n=4)","v":520,"j":-0.04},{"s":"Upper Back","g":"BMI>=25 (n=4)","v":500,"j":0.08},{"s":"Upper Back","g":"BMI>=25 (n=4)","v":440,"j":-0.06},
{"s":"Upper Back","g":"BMI>=25 (n=4)","v":410,"j":0.04},{"s":"Upper Back","g":"BMI>=25 (n=4)","v":370,"j":0.02},{"s":"Upper Back","g":"BMI>=25 (n=4)","v":350,"j":-0.05},{"s":"Upper Back","g":"BMI>=25 (n=4)","v":326,"j":-0.04},
{"s":"Upper Back","g":"BMI<25 (n=6)","v":690,"j":-0.05},{"s":"Upper Back","g":"BMI<25 (n=6)","v":688,"j":0.05},{"s":"Upper Back","g":"BMI<25 (n=6)","v":650,"j":0.04},{"s":"Upper Back","g":"BMI<25 (n=6)","v":600,"j":-0.06},
{"s":"Upper Back","g":"BMI<25 (n=6)","v":530,"j":0.04},{"s":"Upper Back","g":"BMI<25 (n=6)","v":480,"j":-0.09},{"s":"Upper Back","g":"BMI<25 (n=6)","v":420,"j":0.05},{"s":"Upper Back","g":"BMI<25 (n=6)","v":410,"j":-0.02},
{"s":"Upper Back","g":"BMI<25 (n=6)","v":400,"j":0.09},{"s":"Upper Back","g":"BMI<25 (n=6)","v":380,"j":-0.09},{"s":"Upper Back","g":"BMI<25 (n=6)","v":350,"j":-0.03},{"s":"Upper Back","g":"BMI<25 (n=6)","v":257,"j":0},
{"s":"Lower Back","g":"BMI>=25 (n=4)","v":410,"j":0},{"s":"Lower Back","g":"BMI>=25 (n=4)","v":310,"j":0},{"s":"Lower Back","g":"BMI>=25 (n=4)","v":270,"j":-0.05},{"s":"Lower Back","g":"BMI>=25 (n=4)","v":260,"j":0.05},
{"s":"Lower Back","g":"BMI>=25 (n=4)","v":250,"j":0},{"s":"Lower Back","g":"BMI>=25 (n=4)","v":240,"j":0.08},{"s":"Lower Back","g":"BMI>=25 (n=4)","v":220,"j":-0.06},{"s":"Lower Back","g":"BMI>=25 (n=4)","v":201,"j":0},
{"s":"Lower Back","g":"BMI<25 (n=6)","v":364,"j":0},{"s":"Lower Back","g":"BMI<25 (n=6)","v":300,"j":0},{"s":"Lower Back","g":"BMI<25 (n=6)","v":290,"j":0.04},{"s":"Lower Back","g":"BMI<25 (n=6)","v":270,"j":-0.04},
{"s":"Lower Back","g":"BMI<25 (n=6)","v":240,"j":0},{"s":"Lower Back","g":"BMI<25 (n=6)","v":220,"j":-0.1},{"s":"Lower Back","g":"BMI<25 (n=6)","v":205,"j":0.1},{"s":"Lower Back","g":"BMI<25 (n=6)","v":200,"j":-0.06},
{"s":"Lower Back","g":"BMI<25 (n=6)","v":190,"j":0.06},{"s":"Lower Back","g":"BMI<25 (n=6)","v":180,"j":0},{"s":"Lower Back","g":"BMI<25 (n=6)","v":160,"j":-0.04},{"s":"Lower Back","g":"BMI<25 (n=6)","v":150,"j":0.04}
]
},
"vconcat": [
{
  "width": 807, "height": 362,
  "title": {"text": "A)", "anchor": "start", "frame": "group", "orient": "top", "offset": -21, "dx": -105, "fontSize": 13, "fontWeight": "normal", "font": "Open Sans", "color": "#000000"},
  "layer": [
    {
      "data": {"name": "boxesA"},
      "encoding": {
        "x": {"field": "s", "type": "nominal", "scale": {"domain": ["Shin","Dorsal Forearm","Upper Arm","Shoulder","Chest","Abdomen","Calf","Upper Back","Lower Back"], "paddingInner": 0.2, "paddingOuter": 0.196, "align": 0.075}, "axis": null},
        "xOffset": {"field": "g", "type": "nominal", "scale": {"domain": ["cGVHD (n=8)", "Control (n=10)"], "paddingInner": 0, "paddingOuter": 0.17}},
        "color": {"field": "g", "type": "nominal", "scale": {"domain": ["cGVHD (n=8)", "Control (n=10)"], "range": ["#e00000", "#000000"]}, "legend": {"legendX": 638, "legendY": 8}}
      },
      "layer": [
        {"mark": {"type": "rule", "strokeWidth": 2}, "encoding": {"y": {"field": "lo", "type": "quantitative", "scale": {"domain": [0, 2100], "nice": false}, "axis": null}, "y2": {"field": "q1"}}},
        {"mark": {"type": "rule", "strokeWidth": 2}, "encoding": {"y": {"field": "q3", "type": "quantitative", "axis": null}, "y2": {"field": "hi"}}},
        {"mark": {"type": "tick", "size": 9, "thickness": 2}, "encoding": {"y": {"field": "lo", "type": "quantitative", "axis": null}}},
        {"mark": {"type": "tick", "size": 9, "thickness": 2}, "encoding": {"y": {"field": "hi", "type": "quantitative", "axis": null}}},
        {"mark": {"type": "bar", "filled": false, "strokeWidth": 2, "width": 24}, "encoding": {"y": {"field": "q1", "type": "quantitative", "axis": null}, "y2": {"field": "q3"}}},
        {"mark": {"type": "tick", "size": 24, "thickness": 2}, "encoding": {"y": {"field": "med", "type": "quantitative", "axis": null}}}
      ]
    },
    {
      "data": {"name": "pointsA"},
      "transform": [{"filter": "datum.g === 'cGVHD (n=8)'"}],
      "mark": {"type": "point", "filled": true, "size": 30, "opacity": 1},
      "encoding": {
        "x": {"field": "s", "type": "nominal", "axis": {"orient": "bottom", "title": null, "labelAngle": 0, "tickSize": -7, "labelPadding": 9, "labelLineHeight": 26, "labelOverlap": false,
                       "labelExpr": "datum.value === 'Chest' ? 'Chest^' : datum.value === 'Upper Back' ? ['Upper', 'Back^'] : datum.value === 'Lower Back' ? ['Lower', 'Back ^'] : split(datum.value, ' ')"}},
        "xOffset": {"field": "j", "type": "quantitative", "scale": {"domain": [-0.229, 0.571], "zero": false, "nice": false}},
        "y": {"field": "v", "type": "quantitative", "axis": {"orient": "left", "title": "Stiffness (N/m)", "format": "d", "values": [0,500,1000,1500,2000], "tickSize": -7, "labelPadding": 16, "titlePadding": 8}},
        "color": {"field": "g", "type": "nominal", "legend": null}
      }
    },
    {
      "data": {"name": "pointsA"},
      "transform": [{"filter": "datum.g === 'Control (n=10)'"}],
      "mark": {"type": "point", "filled": true, "size": 30, "opacity": 1},
      "encoding": {
        "x": {"field": "s", "type": "nominal", "axis": {"orient": "top", "labels": false, "title": null, "tickSize": -7}},
        "xOffset": {"field": "j", "type": "quantitative", "scale": {"domain": [-0.571, 0.229], "zero": false, "nice": false}},
        "y": {"field": "v", "type": "quantitative", "axis": {"orient": "right", "labels": false, "title": null, "values": [0,500,1000,1500,2000], "tickSize": -7}},
        "color": {"field": "g", "type": "nominal", "legend": null}
      }
    },
    {
      "data": {"name": "sigA"},
      "encoding": {
        "x": {"field": "s", "type": "nominal", "axis": null},
        "y": {"field": "v", "type": "quantitative", "axis": null}
      },
      "layer": [
        {"mark": {"type": "tick", "size": 31, "thickness": 2, "color": "#000000"}},
        {"mark": {"type": "text", "text": "*", "fontSize": 16, "dy": 5, "baseline": "alphabetic", "color": "#000000"}}
      ]
    }
  ],
  "resolve": {"scale": {"xOffset": "independent"}}
},
{
  "width": 807, "height": 356,
  "title": {"text": "B)", "anchor": "start", "frame": "group", "orient": "top", "offset": -17, "dx": -105, "fontSize": 13, "fontWeight": "normal", "font": "Open Sans", "color": "#000000"},
  "layer": [
    {
      "data": {"name": "boxesB"},
      "encoding": {
        "x": {"field": "s", "type": "nominal", "scale": {"domain": ["Shin","Dorsal Forearm","Upper Arm","Shoulder","Chest","Abdomen","Calf","Upper Back","Lower Back"], "paddingInner": 0.2, "paddingOuter": 0.196, "align": 0.075}, "axis": null},
        "xOffset": {"field": "g", "type": "nominal", "scale": {"domain": ["BMI>=25 (n=4)", "BMI<25 (n=6)"], "paddingInner": 0, "paddingOuter": 0.17}},
        "color": {"field": "g", "type": "nominal", "scale": {"domain": ["BMI<25 (n=6)", "BMI>=25 (n=4)"], "range": ["#0000e6", "#000000"]}, "legend": {"legendX": 634, "legendY": 9}}
      },
      "layer": [
        {"mark": {"type": "rule", "strokeWidth": 2}, "encoding": {"y": {"field": "lo", "type": "quantitative", "scale": {"domain": [0, 2000], "nice": false}, "axis": null}, "y2": {"field": "q1"}}},
        {"mark": {"type": "rule", "strokeWidth": 2}, "encoding": {"y": {"field": "q3", "type": "quantitative", "axis": null}, "y2": {"field": "hi"}}},
        {"mark": {"type": "tick", "size": 9, "thickness": 2}, "encoding": {"y": {"field": "lo", "type": "quantitative", "axis": null}}},
        {"mark": {"type": "tick", "size": 9, "thickness": 2}, "encoding": {"y": {"field": "hi", "type": "quantitative", "axis": null}}},
        {"mark": {"type": "bar", "filled": false, "strokeWidth": 2, "width": 25}, "encoding": {"y": {"field": "q1", "type": "quantitative", "axis": null}, "y2": {"field": "q3"}}},
        {"mark": {"type": "tick", "size": 25, "thickness": 2}, "encoding": {"y": {"field": "med", "type": "quantitative", "axis": null}}}
      ]
    },
    {
      "data": {"name": "pointsB"},
      "transform": [{"filter": "datum.g === 'BMI>=25 (n=4)'"}],
      "mark": {"type": "point", "filled": true, "size": 36, "opacity": 1},
      "encoding": {
        "x": {"field": "s", "type": "nominal", "axis": {"orient": "bottom", "title": null, "labelAngle": 0, "tickSize": -7, "labelPadding": 9, "labelLineHeight": 26, "labelOverlap": false, "labelExpr": "split(datum.value, ' ')"}},
        "xOffset": {"field": "j", "type": "quantitative", "scale": {"domain": [-0.229, 0.571], "zero": false, "nice": false}},
        "y": {"field": "v", "type": "quantitative", "axis": {"orient": "left", "title": "Stiffness (N/m)", "format": "d", "values": [0,500,1000,1500,2000], "tickSize": -7, "labelPadding": 16, "titlePadding": 8}},
        "color": {"field": "g", "type": "nominal", "legend": null}
      }
    },
    {
      "data": {"name": "pointsB"},
      "transform": [{"filter": "datum.g === 'BMI<25 (n=6)'"}],
      "mark": {"type": "point", "filled": true, "size": 36, "opacity": 1},
      "encoding": {
        "x": {"field": "s", "type": "nominal", "axis": {"orient": "top", "labels": false, "title": null, "tickSize": -7}},
        "xOffset": {"field": "j", "type": "quantitative", "scale": {"domain": [-0.571, 0.229], "zero": false, "nice": false}},
        "y": {"field": "v", "type": "quantitative", "axis": {"orient": "right", "labels": false, "title": null, "values": [0,500,1000,1500,2000], "tickSize": -7}},
        "color": {"field": "g", "type": "nominal", "legend": null}
      }
    }
  ],
  "resolve": {"scale": {"xOffset": "independent"}}
}
],
"resolve": {"scale": {"color": "independent", "x": "independent", "y": "independent", "xOffset": "independent"}, "legend": {"color": "independent"}}
}
